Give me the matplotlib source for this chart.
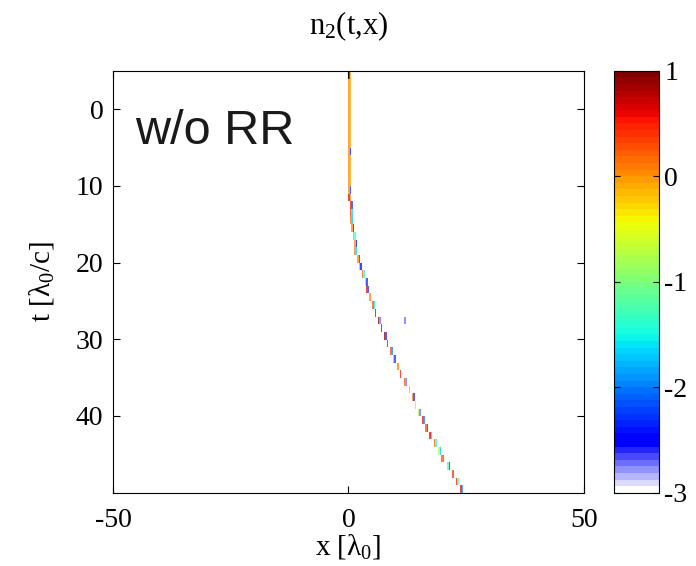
import matplotlib
matplotlib.use("Agg")
import matplotlib.pyplot as plt
import numpy as np
from matplotlib.colors import ListedColormap

plt.rcParams["font.family"] = ["Liberation Serif", "DejaVu Serif"]
plt.rcParams["mathtext.fontset"] = "custom"
plt.rcParams["mathtext.rm"] = "Liberation Serif"
plt.rcParams["mathtext.it"] = "Liberation Serif:italic"
plt.rcParams["axes.unicode_minus"] = False

# grid of the simulation window
X_MIN, X_MAX, DX = -50.0, 50.0, 0.3125
T_MIN, T_MAX, DT = -5.0, 50.0, 1.0

# start time of each row
t_rows = list(range(-5, 50))

# position of the density front in each row [lambda_0]
x_front = [
    0.0, 0.0, 0.0, 0.0, 0.0, 0.0, 0.0, 0.0, 0.0, 0.0, 0.0, 0.0, 0.0, 0.0, 0.0, 0.0,
    0.1, 0.2, 0.3, 0.4, 0.6, 0.8, 1.1, 1.4, 1.9, 2.3,
    2.8, 3.3, 3.9, 4.5, 5.0, 5.6, 6.2, 6.8, 7.4, 8.0,
    8.6, 9.4, 10.2, 11.0, 11.9, 12.7, 13.4, 14.1, 14.8, 15.6,
    16.4, 17.2, 18.1, 19.0, 19.8, 20.8, 21.8, 22.8, 23.8,
]

# log10 density in the front cell and in the cell just ahead of it
n_main = [
    0.9, 0.05, 0.05, 0.05, 0.05, 0.05, 0.05, 0.05, 0.05, 0.05, 0.05, 0.05, 0.05, 0.05, 0.05, 0.05,
    0.6, 0.5, 0.4, 0.1, 0.0, -0.1, 0.0, 0.1, 0.0, -0.1,
    0.2, -0.2, 0.6, 0.0, 0.3, 0.7, 0.9, 0.8, 0.9, 0.6,
    0.3, -0.1, 0.1, 0.5, 0.2, -0.1, 0.0, -0.3, -0.8, 0.5,
    0.3, 0.6, 0.2, -0.8, 0.3, -1.2, 0.4, 0.5, 0.6,
]
n_side = [
    -0.1, -0.1, -0.1, -0.1, -0.1, -0.1, -0.1, -0.1, -0.1, -0.1, -2.4, -0.1, -0.1, -0.1, -0.1, -2.3,
    -0.1, -2.2, -1.6, -1.7, -2.4, -1.3, -2.5, -1.6, -2.6, -2.5,
    -1.4, -2.3, -2.6, np.nan, -1.6, np.nan, -2.7, np.nan, -2.6, np.nan,
    -2.0, -2.6, np.nan, np.nan, -2.7, np.nan, -2.6, np.nan, -2.7, -2.0,
    -2.2, -1.6, -1.4, -1.7, -1.9, -2.6, -2.0, -1.2, -1.9,
]

# isolated cell away from the front
stray_t = [27]
stray_x = [12.0]
stray_n = [-2.7]


def build_field():
    nx = int(round((X_MAX - X_MIN) / DX))
    nt = int(round((T_MAX - T_MIN) / DT))
    field = np.full((nt, nx), np.nan)
    for t, x, a, b in zip(t_rows, x_front, n_main, n_side):
        i = int(round((t - T_MIN) / DT))
        j = int(round((x - X_MIN) / DX))
        field[i, j] = a
        if not np.isnan(b):
            field[i, j + 1] = b
    for t, x, v in zip(stray_t, stray_x, stray_n):
        field[int(round((t - T_MIN) / DT)), int(round((x - X_MIN) / DX))] = v
    return np.ma.masked_invalid(field)


def make_cmap():
    jet = plt.get_cmap("jet")(np.linspace(0, 1, 64))
    blue = np.array([0.0, 0.0, 1.0, 1.0])
    white = np.array([1.0, 1.0, 1.0, 1.0])
    for i in range(7):
        f = i / 7
        jet[i] = (1 - f) * white + f * blue
    return ListedColormap(jet)


fig = plt.figure(figsize=(6.96, 5.66), dpi=100)
ax = fig.add_axes([0.1624, 0.1295, 0.6765, 0.7455])
cax = fig.add_axes([0.882, 0.1295, 0.0647, 0.7455])

field = build_field()
im = ax.imshow(
    field,
    cmap=make_cmap(),
    vmin=-3,
    vmax=1,
    extent=[X_MIN, X_MAX, T_MAX, T_MIN],
    origin="upper",
    aspect="auto",
    interpolation="nearest",
    alpha=0.75,
)
ax.set_xlim(-50, 50)
ax.set_ylim(50, -5)
ax.set_xticks([-50, 0, 50])
ax.set_yticks([0, 10, 20, 30, 40])
ax.tick_params(direction="in", length=5, width=0.8, top=True, right=True, labelsize=20)
ax.tick_params(axis="x", pad=11)
ax.tick_params(axis="y", pad=7)
ax.set_xlabel("x [λ$_\\mathrm{0}$]", fontsize=21, labelpad=-1)
ax.set_ylabel("t [λ$_\\mathrm{0}$/c]", fontsize=21, labelpad=14)
ax.set_title("n$_\\mathrm{2}$(t,x)", fontsize=22, pad=26)
ax.text(-45.3, 4.6, "w/o RR", family="Liberation Sans", fontsize=35, color="#1a1a1a",
        va="baseline", ha="left")

cb = fig.colorbar(im, cax=cax, ticks=[-3, -2, -1, 0, 1])
cb.solids.set_alpha(1)
cb.ax.set_yticklabels(["-3", "-2", "-1", "0", "1"])
cb.ax.tick_params(direction="in", length=4, width=0.8, left=True, right=True, labelsize=20, pad=4)
cb.outline.set_linewidth(0.8)

fig.savefig("out.png", dpi=100)
